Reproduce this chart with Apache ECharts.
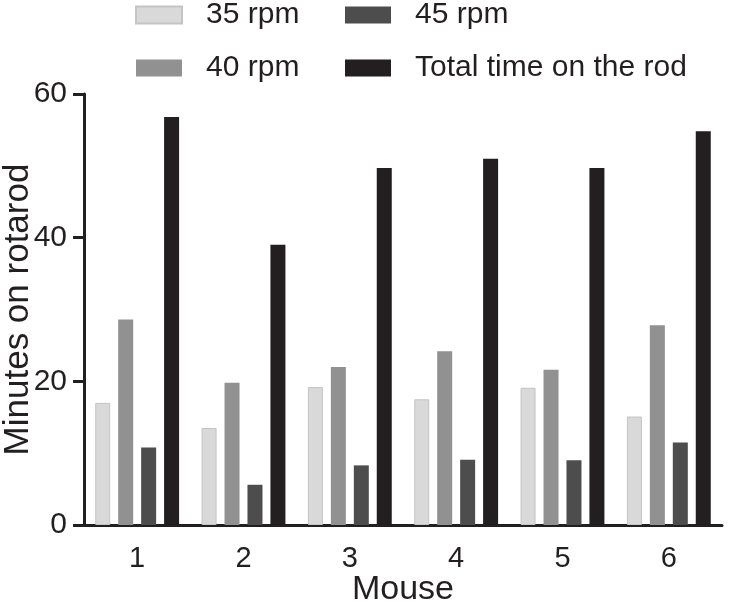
<!DOCTYPE html>
<html>
<head>
<meta charset="utf-8">
<script src="https://cdn.jsdelivr.net/npm/echarts@6/dist/echarts.min.js"></script>
<style>
  html, body { margin: 0; padding: 0; background: #fff; }
  #chart { width: 734px; height: 602px; }
</style>
</head>
<body>
<div id="chart"></div>
<script>
// 数据
const mice = ['1', '2', '3', '4', '5', '6'];
const rpm35 = [17.0, 13.5, 19.2, 17.5, 19.1, 15.1];
const rpm40 = [28.6, 19.8, 22.0, 24.2, 21.6, 27.8];
const rpm45 = [10.8, 5.6, 8.3, 9.1, 9.0, 11.5];
const totalTime = [56.8, 39.0, 49.7, 51.0, 49.7, 54.8];
const yTicks = [0, 20, 40, 60];

const font = "'Liberation Sans', Arial, sans-serif";
const ink = '#231f20';

const chart = echarts.init(document.getElementById('chart'), null, { renderer: 'canvas' });

const legendBase = {
  orient: 'vertical',
  top: 0,
  padding: 0,
  itemWidth: 46,
  itemHeight: 17,
  itemGap: 23,
  icon: 'rect',
  textStyle: {
    fontFamily: font,
    fontSize: 30,
    color: ink,
    lineHeight: 30,
    padding: [0, 0, 0, 19]
  }
};

const barSeries = (name, data, color, border) => ({
  name,
  type: 'bar',
  data,
  barWidth: 15,
  barGap: '53%',
  itemStyle: {
    color,
    borderColor: border || color,
    borderWidth: border ? 1 : 0
  }
});

const option = {
  animation: false,
  backgroundColor: '#fff',
  textStyle: { fontFamily: font },
  legend: [
    Object.assign({}, legendBase, { left: 135, data: ['35 rpm', '40 rpm'] }),
    Object.assign({}, legendBase, { left: 345, data: ['45 rpm', 'Total time on the rod'] })
  ],
  grid: { left: 84, right: 12, top: 94, bottom: 77, outerBoundsMode: 'none', containLabel: false },
  xAxis: {
    type: 'category',
    data: mice,
    name: 'Mouse',
    nameLocation: 'middle',
    nameGap: 48,
    nameMoveOverlap: false,
    nameTextStyle: { fontFamily: font, fontSize: 34, color: ink },
    axisLine: { lineStyle: { color: ink, width: 3 } },
    axisTick: { alignWithLabel: true, length: 11, lineStyle: { color: ink, width: 3 } },
    axisLabel: { fontFamily: font, fontSize: 29, color: ink, margin: 19 },
    splitLine: { show: false }
  },
  yAxis: {
    type: 'value',
    min: yTicks[0],
    max: yTicks[yTicks.length - 1],
    interval: 20,
    name: 'Minutes on rotarod',
    nameLocation: 'middle',
    nameGap: 48,
    nameMoveOverlap: false,
    nameTextStyle: { fontFamily: font, fontSize: 35, color: ink },
    axisLine: { show: true, lineStyle: { color: ink, width: 3 } },
    axisTick: { show: true, length: 11, lineStyle: { color: ink, width: 3 } },
    axisLabel: { fontFamily: font, fontSize: 30, color: ink, margin: 17 },
    splitLine: { show: false }
  },
  series: [
    barSeries('35 rpm', rpm35, '#d9d9d9', '#c4c4c4'),
    barSeries('40 rpm', rpm40, '#919191'),
    barSeries('45 rpm', rpm45, '#4d4d4d'),
    barSeries('Total time on the rod', totalTime, ink)
  ]
};

chart.setOption(option);
</script>
</body>
</html>
